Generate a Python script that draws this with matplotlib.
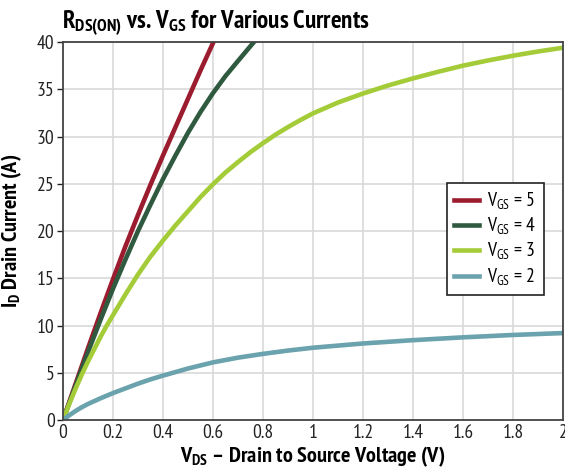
"""ID vs VDS curves for several gate voltages"""

import matplotlib
matplotlib.use("Agg")
import matplotlib.pyplot as plt

FONT = "PT Sans Narrow"
plt.rcParams["font.family"] = [FONT, "DejaVu Sans"]
plt.rcParams["mathtext.fontset"] = "custom"
plt.rcParams["mathtext.rm"] = FONT
plt.rcParams["mathtext.bf"] = FONT + ":bold"

vds_5 = [0, 0.05, 0.1, 0.15, 0.2, 0.25, 0.3, 0.35, 0.4, 0.45, 0.5, 0.55, 0.607]
id_5 = [0, 3.8, 7.6, 11.3, 14.9, 18.4, 21.7, 24.9, 28.0, 31.0, 34.0, 37.0, 40.3]

vds_4 = [0, 0.05, 0.1, 0.15, 0.2, 0.25, 0.3, 0.35, 0.4, 0.45, 0.5, 0.55, 0.6, 0.65, 0.7, 0.77]
id_4 = [0, 3.6, 7.2, 10.6, 13.9, 17.0, 20.0, 22.8, 25.5, 28.0, 30.4, 32.6, 34.6, 36.4, 38.0, 40.2]

vds_3 = [0, 0.025, 0.05, 0.075, 0.1, 0.125, 0.15, 0.175, 0.2, 0.25, 0.3, 0.35, 0.4, 0.45,
         0.5, 0.55, 0.6, 0.65, 0.7, 0.75, 0.8, 0.85, 0.9, 0.95, 1.0,
         1.1, 1.2, 1.3, 1.4, 1.5, 1.6, 1.7, 1.8, 1.9, 2.0]
id_3 = [0, 1.7, 3.3, 4.8, 6.2, 7.5, 8.8, 10.0, 11.1, 13.3, 15.4, 17.3, 19.0, 20.6,
        22.1, 23.6, 24.95, 26.2, 27.3, 28.35, 29.3, 30.2, 31.0, 31.75, 32.45,
        33.6, 34.55, 35.4, 36.15, 36.85, 37.5, 38.05, 38.55, 39.0, 39.4]

vds_2 = [0, 0.025, 0.05, 0.075, 0.1, 0.15, 0.2, 0.25, 0.3, 0.35, 0.4, 0.5, 0.6, 0.7, 0.8,
         0.9, 1.0, 1.2, 1.4, 1.6, 1.8, 2.0]
id_2 = [0, 0.5, 0.95, 1.35, 1.7, 2.3, 2.85, 3.35, 3.85, 4.3, 4.7, 5.45, 6.1, 6.6, 7.0,
        7.35, 7.65, 8.1, 8.45, 8.75, 9.0, 9.2]

labels = [r"V$_{\mathrm{GS}}$ = 5", r"V$_{\mathrm{GS}}$ = 4",
          r"V$_{\mathrm{GS}}$ = 3", r"V$_{\mathrm{GS}}$ = 2"]
colors = ["#9b1c2e", "#2f5a3f", "#a4cc38", "#6aa2ad"]

fig = plt.figure(figsize=(5.65, 4.67), dpi=100)
ax = fig.add_axes([0.1115, 0.1006, 0.885, 0.8094])

for xs, ys, lab, c in zip([vds_5, vds_4, vds_3, vds_2], [id_5, id_4, id_3, id_2], labels, colors):
    ax.plot(xs, ys, color=c, lw=3.3, label=lab, solid_joinstyle="round")

ax.set_xlim(0, 2)
ax.set_ylim(0, 40)
ax.set_xticks([0, 0.2, 0.4, 0.6, 0.8, 1, 1.2, 1.4, 1.6, 1.8, 2])
ax.set_xticklabels(["0", "0.2", "0.4", "0.6", "0.8", "1", "1.2", "1.4", "1.6", "1.8", "2"])
ax.set_yticks(range(0, 41, 5))
ax.grid(True, color="#d9d9d9", lw=1.2)
ax.set_axisbelow(True)
for s in ax.spines.values():
    s.set_color("#444444")
    s.set_linewidth(1.3)
ax.tick_params(axis="both", labelsize=14, colors="#222222", length=4, width=1)
ax.tick_params(axis="x", length=0, pad=3)
ax.tick_params(axis="y", pad=2)

ax.set_xlabel(r"$\mathbf{V_{DS}}$ – Drain to Source Voltage (V)", fontsize=16,
              fontweight="bold", labelpad=2)
ax.set_ylabel(r"$\mathbf{I_{D}}$ Drain Current (A)", fontsize=16,
              fontweight="bold", labelpad=9)
fig.text(0.11, 0.94, r"$\mathbf{R_{DS(ON)}}$ vs. $\mathbf{V_{GS}}$ for Various Currents",
         fontsize=18, fontweight="bold", ha="left", va="baseline")

leg = ax.legend(loc="upper left", bbox_to_anchor=(0.767, 0.627), fontsize=14,
                frameon=True, fancybox=False, handlelength=1.25, handletextpad=0.45,
                borderpad=0.4, labelspacing=0.2, borderaxespad=0)
leg.get_frame().set_edgecolor("#222222")
leg.get_frame().set_linewidth(1.2)
leg.get_frame().set_alpha(1)

fig.savefig("out.png", dpi=100)
